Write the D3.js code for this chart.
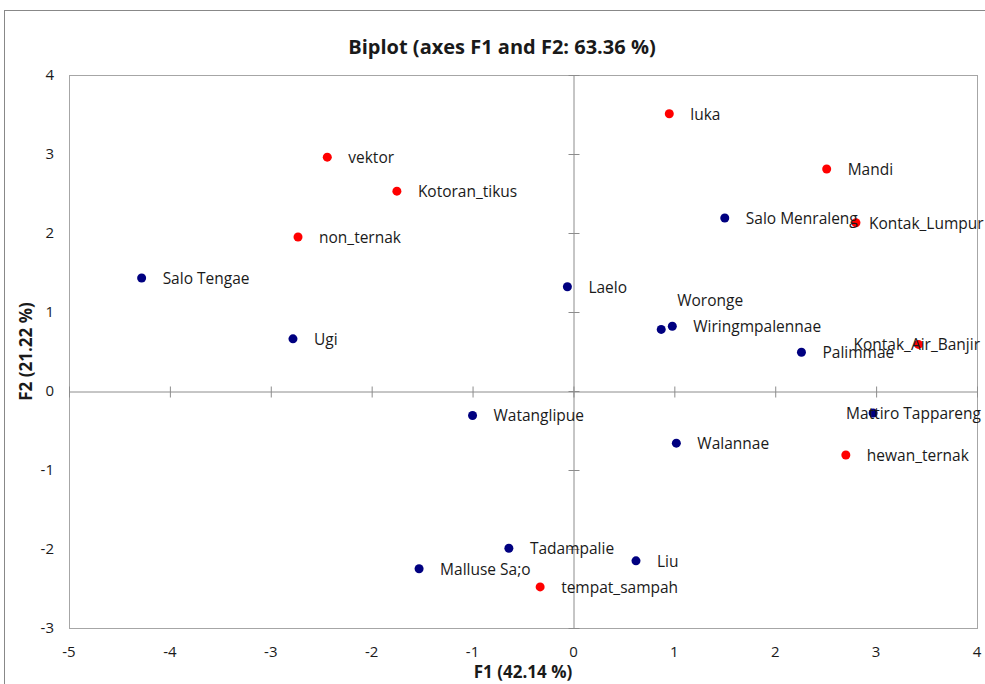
<!DOCTYPE html>
<html>
<head>
<meta charset="utf-8">
<script src="https://cdn.jsdelivr.net/npm/d3@7"></script>
<style>
  body { margin: 0; background: #fff; }
  svg { display: block; font-family: 'Open Sans', 'Noto Sans', sans-serif; }
  .lbl { font-size: 15.5px; fill: #1a1a1a; }
  .tick-lbl { font-size: 15px; fill: #1a1a1a; }
  .ttl { font-size: 20px; font-weight: bold; fill: #1a1a1a; }
  .ax-ttl { font-size: 17px; font-weight: bold; fill: #1a1a1a; }
</style>
</head>
<body>
<div id="chart"></div>
<script>
// observations (blue)
const obsNames = ['Salo Tengae', 'Ugi', 'Laelo', 'Salo Menraleng', 'Woronge', 'Wiringmpalennae',
  'Palimmae', 'Mattiro Tappareng', 'Watanglipue', 'Walannae', 'Tadampalie', 'Liu', 'Malluse Sa;o'];
const obsF1 = [-4.28, -2.78, -0.06, 1.50, 0.87, 0.98, 2.26, 2.97, -1.00, 1.02, -0.64, 0.62, -1.53];
const obsF2 = [1.43, 0.66, 1.32, 2.19, 0.78, 0.82, 0.49, -0.28, -0.31, -0.66, -1.99, -2.15, -2.25];

// variables (red)
const varNames = ['luka', 'vektor', 'Mandi', 'Kotoran_tikus', 'Kontak_Lumpur', 'non_ternak',
  'Kontak_Air_Banjir', 'hewan_ternak', 'tempat_sampah'];
const varF1 = [0.95, -2.44, 2.51, -1.75, 2.80, -2.73, 3.42, 2.70, -0.33];
const varF2 = [3.51, 2.96, 2.81, 2.53, 2.13, 1.95, 0.59, -0.81, -2.48];

const xTicks = [-5, -4, -3, -2, -1, 0, 1, 2, 3, 4];
const yTicks = [-3, -2, -1, 0, 1, 2, 3, 4];

const title = 'Biplot (axes F1 and F2: 63.36 %)';
const xTitle = 'F1 (42.14 %)';
const yTitle = 'F2 (21.22 %)';

// label placement tweaks where labels were moved off the default spot
const labelOffsets = {
  'Woronge': [16, -23],
  'Kontak_Lumpur': [13, 6],
  'Kontak_Air_Banjir': [-65, 6],
  'Mattiro Tappareng': [-27, 6],
};

const W = 985;
const H = 684;
const margin = { top: 75, right: 8, bottom: 56, left: 69 };

const svg = d3.select('#chart').append('svg')
  .attr('width', W)
  .attr('height', H);

// chart area border (runs off the right and bottom of the picture)
svg.append('rect')
  .attr('x', 4.5).attr('y', 10.5)
  .attr('width', 1200).attr('height', 900)
  .attr('fill', 'none')
  .attr('stroke', '#888');

const x = d3.scaleLinear().domain([-5, 4]).range([margin.left, W - margin.right]);
const y = d3.scaleLinear().domain([-3, 4]).range([H - margin.bottom, margin.top]);

// plot area
svg.append('rect')
  .attr('x', x(-5) + 0.5).attr('y', y(4) + 0.5)
  .attr('width', x(4) - x(-5)).attr('height', y(-3) - y(4))
  .attr('fill', 'none')
  .attr('stroke', '#a6a6a6');

// axes crossing at zero, cross ticks, no labels on them
const xAxis = d3.axisBottom(x).tickValues(xTicks).tickSize(0).tickFormat('');
const yAxis = d3.axisLeft(y).tickValues(yTicks).tickSize(0).tickFormat('');

const gx = svg.append('g')
  .attr('transform', `translate(0,${Math.round(y(0)) + 0.5})`)
  .call(xAxis);
gx.select('.domain').attr('stroke', '#8c8c8c');
gx.selectAll('.tick line').attr('y1', -5).attr('y2', 6).attr('stroke', '#8c8c8c');

const gy = svg.append('g')
  .attr('transform', `translate(${Math.round(x(0)) + 0.5},0)`)
  .call(yAxis);
gy.select('.domain').attr('stroke', '#8c8c8c');
gy.selectAll('.tick line').attr('x1', -5).attr('x2', 6).attr('stroke', '#8c8c8c');

// tick labels along the plot edges
svg.append('g').selectAll('text')
  .data(xTicks)
  .join('text')
  .attr('class', 'tick-lbl')
  .attr('x', (d) => x(d))
  .attr('y', y(-3) + 29)
  .attr('text-anchor', 'middle')
  .text((d) => d);

svg.append('g').selectAll('text')
  .data(yTicks)
  .join('text')
  .attr('class', 'tick-lbl')
  .attr('x', x(-5) - 15)
  .attr('y', (d) => y(d) + 5)
  .attr('text-anchor', 'end')
  .text((d) => d);

// titles
svg.append('text').attr('class', 'ttl')
  .attr('x', 502).attr('y', 54)
  .attr('text-anchor', 'middle')
  .text(title);

svg.append('text').attr('class', 'ax-ttl')
  .attr('x', (x(-5) + x(4)) / 2).attr('y', 678)
  .attr('text-anchor', 'middle')
  .text(xTitle);

svg.append('text').attr('class', 'ax-ttl')
  .attr('transform', `translate(32,${(y(4) + y(-3)) / 2}) rotate(-90)`)
  .attr('text-anchor', 'middle')
  .text(yTitle);

const obs = obsNames.map((n, i) => ({ name: n, f1: obsF1[i], f2: obsF2[i], color: '#000080' }));
const vars = varNames.map((n, i) => ({ name: n, f1: varF1[i], f2: varF2[i], color: '#ff0000' }));
const points = obs.concat(vars);

const pts = svg.append('g').attr('class', 'points');

pts.selectAll('circle')
  .data(points)
  .join('circle')
  .attr('cx', (d) => x(d.f1))
  .attr('cy', (d) => y(d.f2))
  .attr('r', 4.5)
  .attr('fill', (d) => d.color);

pts.selectAll('text')
  .data(points)
  .join('text')
  .attr('class', 'lbl')
  .attr('x', (d) => x(d.f1) + (labelOffsets[d.name] ? labelOffsets[d.name][0] : 21))
  .attr('y', (d) => y(d.f2) + (labelOffsets[d.name] ? labelOffsets[d.name][1] : 6))
  .text((d) => d.name);
</script>
</body>
</html>
